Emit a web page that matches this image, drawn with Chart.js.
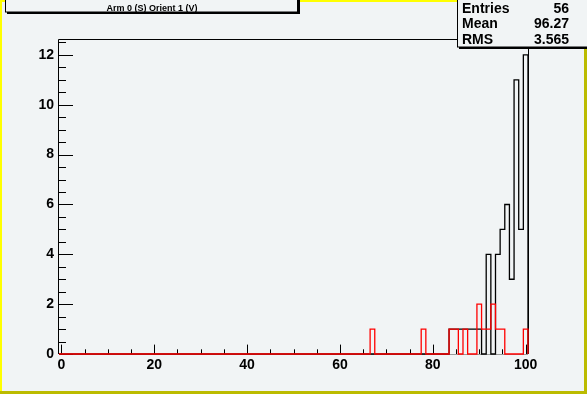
<!DOCTYPE html>
<html>
<head>
<meta charset="utf-8">
<script src="https://cdn.jsdelivr.net/npm/chart.js@4.4.1/dist/chart.umd.min.js"></script>
<style>
  html, body { margin: 0; padding: 0; background: #f1f4f5; }
  #wrap { width: 587px; height: 394px; }
</style>
</head>
<body>
<div id="wrap"><canvas id="histo" width="587" height="394"></canvas></div>
<script>
// histogram contents (bin centre -> count), bins are 1 wide from -0.5 to 100.5
const blackBins   = [84, 85, 86, 87, 88, 89, 90, 92, 94, 95, 96, 97, 98, 99, 100];
const blackCounts = [ 1,  1,  1,  1,  1,  1,  1,  4,  4,  5,  6,  3, 11,  5,  12];
const redBins     = [67, 78, 84, 85, 87, 90, 91, 92, 93, 94, 95, 100];
const redCounts   = [ 1,  1,  1,  1,  1,  2,  1,  1,  2,  1,  1,   1];

const xTicks = [0, 20, 40, 60, 80, 100];
const yTicks = [0, 2, 4, 6, 8, 10, 12];
const titleText = 'Arm 0 (S) Orient 1 (V)';
const statsLabels = ['Entries', 'Mean', 'RMS'];
const statsValues = ['56', '96.27', '3.565'];

const nBins = 101, xLow = -0.5, xHigh = 100.5, yMax = 12.6;
const BG = '#f1f4f5';
const FONT = 'bold 14px "Liberation Sans", Arial, sans-serif';

// turn bin contents into a step outline
function outline(bins, counts) {
    const full = new Array(nBins).fill(0);
    bins.forEach((b, i) => { full[b] = counts[i]; });
    const pts = [{ x: xLow, y: 0 }];
    full.forEach((c, i) => {
        pts.push({ x: xLow + i, y: c });
        pts.push({ x: xLow + i + 1, y: c });
    });
    pts.push({ x: xHigh, y: 0 });
    return pts;
}

const rootLook = {
    id: 'rootLook',
    beforeDraw(chart) {
        const ctx = chart.ctx, W = chart.width, H = chart.height;
        ctx.save();
        ctx.fillStyle = BG;
        ctx.fillRect(0, 0, W, H);
        // canvas bevel border
        ctx.fillStyle = '#ffff00';
        ctx.fillRect(0, 0, W, 2);
        ctx.fillRect(0, 0, 2, H);
        ctx.fillStyle = '#bbbb00';
        ctx.fillRect(W - 3, 0, 3, H);
        ctx.fillRect(0, H - 3, W, 3);
        ctx.restore();
    },
    beforeDatasetsDraw(chart) {
        const ctx = chart.ctx, a = chart.chartArea;
        const xs = chart.scales.x, ys = chart.scales.y;
        ctx.save();
        ctx.strokeStyle = '#000';
        ctx.lineWidth = 1;
        ctx.beginPath();
        ctx.moveTo(a.left - 0.5, a.bottom);
        ctx.lineTo(a.left - 0.5, a.top - 0.5);
        ctx.lineTo(a.right + 0.5, a.top - 0.5);
        ctx.lineTo(a.right + 0.5, a.bottom);
        ctx.stroke();
        ctx.strokeStyle = '#9a9a9a';
        ctx.beginPath();
        ctx.moveTo(a.left, a.bottom + 0.5);
        ctx.lineTo(a.right, a.bottom + 0.5);
        ctx.stroke();

        // ticks inside the frame
        ctx.strokeStyle = '#000';
        ctx.beginPath();
        for (let v = 0; v <= 100; v += 5) {
            const px = Math.round(xs.getPixelForValue(v)) + 0.5;
            const len = v % 20 === 0 ? 9.4 : 4.7;
            ctx.moveTo(px, a.bottom);
            ctx.lineTo(px, a.bottom - len);
        }
        for (let v = 0; v <= 12.5; v += 0.5) {
            const py = Math.round(ys.getPixelForValue(v)) + 0.5;
            const len = v % 2 === 0 ? 14 : 7;
            ctx.moveTo(a.left, py);
            ctx.lineTo(a.left + len, py);
        }
        ctx.stroke();

        ctx.fillStyle = '#000';
        ctx.font = FONT;
        ctx.textAlign = 'center';
        ctx.textBaseline = 'middle';
        xTicks.forEach(v => ctx.fillText(String(v), xs.getPixelForValue(v), 365));
        ctx.textAlign = 'right';
        yTicks.forEach(v => ctx.fillText(String(v), 54, ys.getPixelForValue(v)));
        ctx.restore();
    },
    afterDraw(chart) {
        const ctx = chart.ctx;
        ctx.save();
        // title pave
        ctx.fillStyle = '#000';
        ctx.fillRect(7, -2, 293, 16);
        ctx.fillStyle = BG;
        ctx.fillRect(5, -4, 293, 16);
        ctx.strokeStyle = '#000';
        ctx.lineWidth = 1;
        ctx.strokeRect(5.5, -4, 292, 16);
        ctx.fillStyle = '#000';
        ctx.font = 'bold 9px "Liberation Sans", Arial, sans-serif';
        ctx.textAlign = 'center';
        ctx.textBaseline = 'alphabetic';
        ctx.fillText(titleText, 152, 10.5);

        // stats pave
        ctx.fillStyle = '#000';
        ctx.fillRect(459, -2, 140, 51);
        ctx.fillStyle = BG;
        ctx.fillRect(457, -4, 140, 51);
        ctx.strokeRect(457.5, -4, 140, 51);
        ctx.fillStyle = '#000';
        ctx.font = FONT;
        const rows = [12.5, 28, 43.5];
        statsLabels.forEach((s, i) => {
            ctx.textAlign = 'left';
            ctx.fillText(s, 462, rows[i]);
            ctx.textAlign = 'right';
            ctx.fillText(statsValues[i], 569, rows[i]);
        });
        ctx.restore();
    }
};

new Chart(document.getElementById('histo'), {
    type: 'line',
    data: {
        datasets: [
            {
                label: 'red',
                data: outline(redBins, redCounts),
                borderColor: '#ff0000',
                borderWidth: 1.3,
                pointRadius: 0,
                tension: 0,
                fill: false,
                clip: false,
                order: 0
            },
            {
                label: 'black',
                data: outline(blackBins, blackCounts),
                borderColor: '#000000',
                borderWidth: 1.3,
                pointRadius: 0,
                tension: 0,
                fill: false,
                clip: false,
                order: 1
            }
        ]
    },
    options: {
        responsive: false,
        animation: false,
        devicePixelRatio: 1,
        layout: { padding: { left: 59, right: 59, top: 40, bottom: 40 } },
        plugins: { legend: { display: false }, tooltip: { enabled: false } },
        scales: {
            x: { type: 'linear', min: xLow, max: xHigh, display: false },
            y: { type: 'linear', min: 0, max: yMax, display: false }
        }
    },
    plugins: [rootLook]
});
</script>
</body>
</html>
